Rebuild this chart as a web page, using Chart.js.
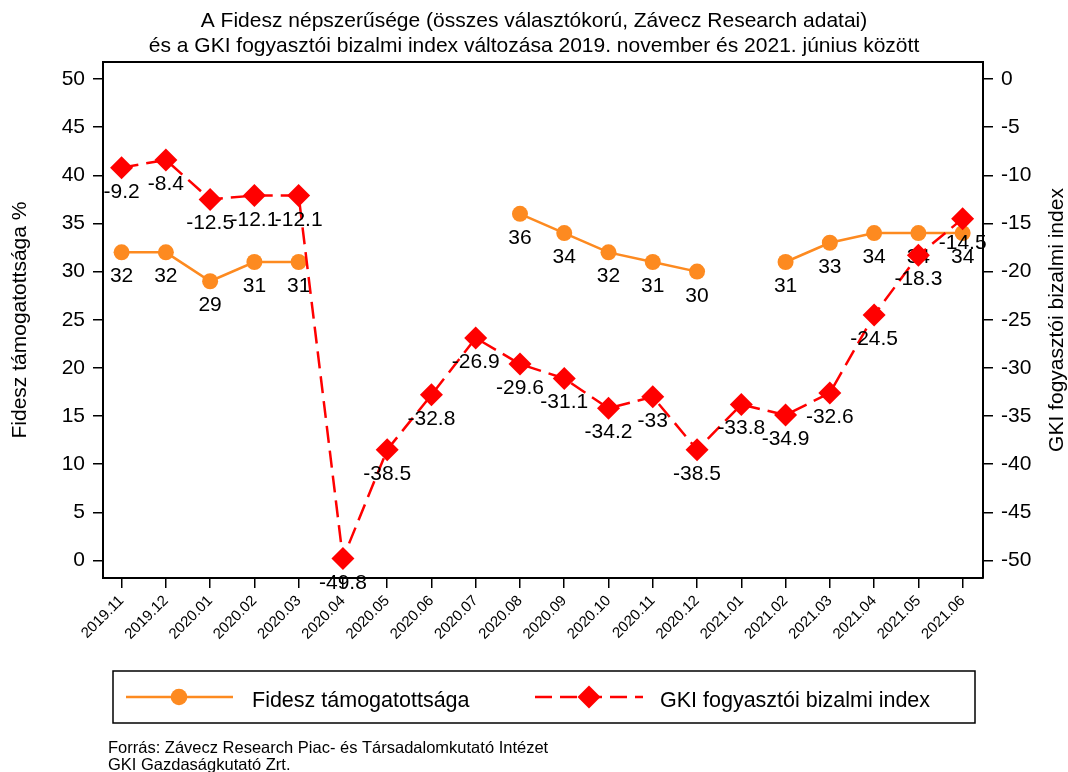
<!DOCTYPE html>
<html>
<head>
<meta charset="utf-8">
<script src="https://cdn.jsdelivr.net/npm/chart.js@4.4.1/dist/chart.umd.min.js"></script>
<style>
  body { margin: 0; background: #fff; }
  #wrap { width: 1068px; height: 772px; }
</style>
</head>
<body>
<div id="wrap"><canvas id="chart" width="1068" height="772"></canvas></div>
<script>
// adatok
const months = ['2019.11', '2019.12', '2020.01', '2020.02', '2020.03', '2020.04', '2020.05',
  '2020.06', '2020.07', '2020.08', '2020.09', '2020.10', '2020.11', '2020.12',
  '2021.01', '2021.02', '2021.03', '2021.04', '2021.05', '2021.06'];
const fidesz = [32, 32, 29, 31, 31, null, null, null, null, 36, 34, 32, 31, 30, null, 31, 33, 34, 34, 34];
const gki = [-9.2, -8.4, -12.5, -12.1, -12.1, -49.8, -38.5, -32.8, -26.9, -29.6, -31.1,
  -34.2, -33, -38.5, -33.8, -34.9, -32.6, -24.5, -18.3, -14.5];
const leftTicks = [0, 5, 10, 15, 20, 25, 30, 35, 40, 45, 50];
const rightTicks = [-50, -45, -40, -35, -30, -25, -20, -15, -10, -5, 0];

const titleLines = ['A Fidesz népszerűsége (összes választókorú, Závecz Research adatai)',
  'és a GKI fogyasztói bizalmi index változása 2019. november és 2021. június között'];
const sourceLines = ['Forrás: Závecz Research Piac- és Társadalomkutató Intézet', 'GKI Gazdaságkutató Zrt.'];

const ORANGE = '#fd8a20';
const RED = '#ff0000';
const FONT = '"Liberation Sans", Arial, Helvetica, sans-serif';
Chart.defaults.font.family = FONT;
Chart.defaults.color = '#000';

// pontok feliratai, cím, tengelycímek, jelmagyarázat
const decor = {
  id: 'decor',
  beforeDraw(chart) {
    const ctx = chart.ctx;
    ctx.save();
    ctx.fillStyle = '#fff';
    ctx.fillRect(0, 0, chart.width, chart.height);
    ctx.restore();
  },
  afterDatasetDraw(chart, args) {
    const ctx = chart.ctx;
    const values = args.index === 0 ? fidesz : gki;
    ctx.save();
    ctx.font = '21px ' + FONT;
    ctx.fillStyle = '#000';
    ctx.textAlign = 'center';
    ctx.textBaseline = 'alphabetic';
    args.meta.data.forEach((pt, i) => {
      if (values[i] === null) return;
      ctx.fillText(String(values[i]), pt.x, pt.y + 30);
    });
    ctx.restore();
  },
  afterDraw(chart) {
    const ctx = chart.ctx;
    const area = chart.chartArea;
    ctx.save();
    // felső keret
    ctx.strokeStyle = '#000';
    ctx.lineWidth = 2;
    ctx.beginPath();
    ctx.moveTo(area.left - 1, area.top);
    ctx.lineTo(area.right + 1, area.top);
    ctx.stroke();

    // cím
    ctx.fillStyle = '#000';
    ctx.textAlign = 'center';
    ctx.font = '21px ' + FONT;
    ctx.fillText(titleLines[0], 534, 27);
    ctx.fillText(titleLines[1], 534, 52);

    // tengelycímek
    const midY = (area.top + area.bottom) / 2;
    ctx.font = '21px ' + FONT;
    ctx.textBaseline = 'middle';
    ctx.save();
    ctx.translate(20, midY);
    ctx.rotate(-Math.PI / 2);
    ctx.fillText('Fidesz támogatottsága %', 0, 0);
    ctx.restore();
    ctx.save();
    ctx.translate(1057, midY);
    ctx.rotate(-Math.PI / 2);
    ctx.fillText('GKI fogyasztói bizalmi index', 0, 0);
    ctx.restore();

    // jelmagyarázat
    ctx.textBaseline = 'alphabetic';
    ctx.textAlign = 'left';
    ctx.lineWidth = 1.5;
    ctx.strokeRect(113, 671, 862, 52);
    const ly = 697;
    ctx.strokeStyle = ORANGE;
    ctx.lineWidth = 2.5;
    ctx.beginPath();
    ctx.moveTo(126, ly);
    ctx.lineTo(233, ly);
    ctx.stroke();
    ctx.fillStyle = ORANGE;
    ctx.beginPath();
    ctx.arc(179, ly, 8.3, 0, Math.PI * 2);
    ctx.fill();
    ctx.strokeStyle = RED;
    ctx.setLineDash([17, 8]);
    ctx.beginPath();
    ctx.moveTo(535, ly);
    ctx.lineTo(643, ly);
    ctx.stroke();
    ctx.setLineDash([]);
    ctx.fillStyle = RED;
    ctx.beginPath();
    ctx.moveTo(589, ly - 11.5);
    ctx.lineTo(600.5, ly);
    ctx.lineTo(589, ly + 11.5);
    ctx.lineTo(577.5, ly);
    ctx.closePath();
    ctx.fill();
    ctx.fillStyle = '#000';
    ctx.font = '21.5px ' + FONT;
    ctx.fillText('Fidesz támogatottsága', 252, 706.5);
    ctx.fillText('GKI fogyasztói bizalmi index', 660, 706.5);

    // forrás
    ctx.font = '16.5px ' + FONT;
    ctx.fillText(sourceLines[0], 108, 753);
    ctx.fillText(sourceLines[1], 108, 770);
    ctx.restore();
  }
};

const yTickStyle = {
  stepSize: 5,
  includeBounds: false,
  padding: 8,
  font: { size: 21 },
  color: '#000'
};
const axisGrid = { drawOnChartArea: false, drawTicks: true, tickLength: 10, color: '#000', lineWidth: 1.5 };
const axisBorder = { display: true, color: '#000', width: 2 };

new Chart(document.getElementById('chart'), {
  type: 'line',
  data: {
    datasets: [
      {
        label: 'Fidesz támogatottsága',
        data: fidesz.map((v, i) => ({ x: i, y: v })),
        yAxisID: 'y',
        borderColor: ORANGE,
        backgroundColor: ORANGE,
        borderWidth: 2.5,
        pointStyle: 'circle',
        pointRadius: 8,
        pointBorderWidth: 0,
        spanGaps: false,
        order: 1
      },
      {
        label: 'GKI fogyasztói bizalmi index',
        data: gki.map((v, i) => ({ x: i, y: v })),
        yAxisID: 'y2',
        borderColor: RED,
        backgroundColor: RED,
        borderWidth: 2.5,
        borderDash: [17, 8],
        pointStyle: 'rectRot',
        pointRadius: 11.5,
        pointBorderWidth: 0,
        order: 0
      }
    ]
  },
  options: {
    responsive: false,
    animation: false,
    layout: { padding: { top: 62, left: 0, right: 0, bottom: 0 } },
    plugins: { legend: { display: false }, title: { display: false }, tooltip: { enabled: false } },
    scales: {
      x: {
        type: 'linear',
        position: 'bottom',
        min: -0.42,
        max: 19.46,
        ticks: {
          stepSize: 1,
          includeBounds: false,
          autoSkip: false,
          minRotation: 45,
          maxRotation: 45,
          padding: 4,
          font: { size: 15 },
          color: '#000',
          callback: v => months[v] || ''
        },
        grid: axisGrid,
        border: axisBorder,
        afterFit: s => { s.height = 194; }
      },
      y: {
        position: 'left',
        min: -1.82,
        max: 51.77,
        ticks: Object.assign({}, yTickStyle, { callback: v => leftTicks.includes(v) ? String(v) : '' }),
        grid: axisGrid,
        border: axisBorder,
        afterFit: s => { s.width = 103; }
      },
      y2: {
        position: 'right',
        min: -51.82,
        max: 1.77,
        ticks: Object.assign({}, yTickStyle, { callback: v => rightTicks.includes(v) ? String(v) : '' }),
        grid: axisGrid,
        border: axisBorder,
        afterFit: s => { s.width = 85; }
      }
    }
  },
  plugins: [decor]
});
</script>
</body>
</html>
